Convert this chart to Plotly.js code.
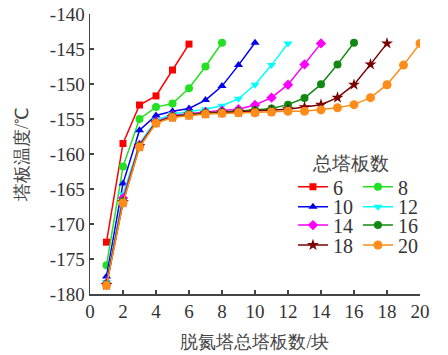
<!DOCTYPE html>
<html>
<head>
<meta charset="utf-8">
<script src="https://cdn.plot.ly/plotly-3.0.1.min.js"></script>
<style>html,body{margin:0;padding:0;background:#fff;}#chart{width:448px;height:355px;}</style>
</head>
<body>
<div id="chart"></div>
<script>
// plate numbers (x values)
const plates = [1,2,3,4,5,6,7,8,9,10,11,12,13,14,15,16,17,18,19,20];
// series names (total plate counts)
const seriesNames = ['6','8','10','12','14','16','18','20'];
// temperature profiles (°C) for each total plate count
const t6  = [-172.6,-158.5,-153.0,-151.7,-148.0,-144.3];
const t8  = [-175.9,-161.8,-155.0,-153.3,-152.8,-150.6,-147.5,-144.1];
const t10 = [-177.5,-164.2,-156.6,-154.5,-153.9,-153.5,-152.3,-150.3,-147.3,-144.1];
const t12 = [-178.3,-165.8,-158.5,-155.2,-154.3,-154.0,-153.6,-153.1,-152.1,-150.1,-147.3,-144.2];
const t14 = [-178.5,-166.3,-158.7,-155.4,-154.5,-154.2,-154.0,-153.8,-153.6,-153.0,-151.95,-150.1,-147.2,-144.2];
const t16 = [-178.6,-166.7,-158.8,-155.5,-154.6,-154.3,-154.1,-154.0,-153.9,-153.7,-153.5,-152.95,-152.0,-150.05,-147.2,-144.1];
const t18 = [-178.7,-166.9,-158.9,-155.5,-154.7,-154.4,-154.2,-154.1,-154.0,-153.9,-153.8,-153.6,-153.3,-152.95,-151.95,-150.1,-147.2,-144.2];
const t20 = [-178.8,-167.0,-159.0,-155.6,-154.8,-154.5,-154.3,-154.2,-154.1,-154.1,-154.0,-153.9,-153.9,-153.7,-153.4,-152.95,-151.95,-150.1,-147.3,-144.2];
const xTicks = [0,2,4,6,8,10,12,14,16,18,20];
const yTicks = [-180,-175,-170,-165,-160,-155,-150,-145,-140];

const allY = [t6,t8,t10,t12,t14,t16,t18,t20];
const colors = ['#ff0000','#22e022','#0000ee','#00ffff','#ff00ff','#118811','#7a0000','#ff8c1a'];
const symbols = ['square','circle','triangle-up','triangle-down','diamond','circle','star','circle'];
const sizes = [7,8,8,8,8,8,9,9];
const legendIds = ['legend','legend','legend2','legend2','legend3','legend3','legend4','legend4'];

const traces = allY.map((ys,i)=>({
  type:'scatter', mode:'lines+markers',
  x: plates.slice(0, ys.length), y: ys,
  name: seriesNames[i],
  legend: legendIds[i],
  line:{color:colors[i], width:1.5},
  marker:{color:colors[i], symbol:symbols[i], size:sizes[i]}
}));

const FONT = 'Liberation Serif';
const legBase = (y)=>({
  x:0.615, y:y, xanchor:'left', yanchor:'middle',
  orientation:'h', entrywidth:20, entrywidthmode:'pixels',
  bgcolor:'rgba(0,0,0,0)', borderwidth:0,
  font:{family:FONT, size:20, color:'#333'},
  itemsizing:'trace', tracegroupgap:0
});

const layout = {
  width:448, height:355,
  margin:{l:90, r:28, t:14, b:61},
  paper_bgcolor:'#fff', plot_bgcolor:'#fff',
  showlegend:true,
  legend: legBase(0.383),
  legend2: legBase(0.312),
  legend3: legBase(0.246),
  legend4: legBase(0.175),
  font:{family:FONT, size:18, color:'#333'},
  xaxis:{
    range:[0,20], tickvals:xTicks, ticktext:xTicks.map(String),
    ticks:'inside', ticklen:4, tickwidth:1.2, tickcolor:'#444',
    showline:true, linecolor:'#444', linewidth:1.5, mirror:false,
    showgrid:false, zeroline:false, automargin:false,
    tickfont:{family:FONT, size:19, color:'#333'},
    title:{text:'脱氮塔总塔板数/块', font:{family:FONT, size:18, color:'#444'}, standoff:14}
  },
  yaxis:{
    range:[-180,-140], tickvals:yTicks, ticktext:yTicks.map(String),
    ticks:'inside', ticklen:4, tickwidth:1.2, tickcolor:'#444',
    showline:true, linecolor:'#444', linewidth:1.5, mirror:false,
    showgrid:false, zeroline:false, automargin:false,
    tickfont:{family:FONT, size:19, color:'#333'},
    title:{text:'塔板温度/℃', font:{family:FONT, size:18, color:'#444'}, standoff:16}
  },
  annotations:[{
    text:'总塔板数', xref:'paper', yref:'paper', x:(350-90)/330, y:(294-163)/280,
    xanchor:'center', yanchor:'middle', showarrow:false,
    font:{family:FONT, size:19, color:'#444'}
  }]
};

Plotly.newPlot('chart', traces, layout, {displayModeBar:false, staticPlot:true});
</script>
</body>
</html>
